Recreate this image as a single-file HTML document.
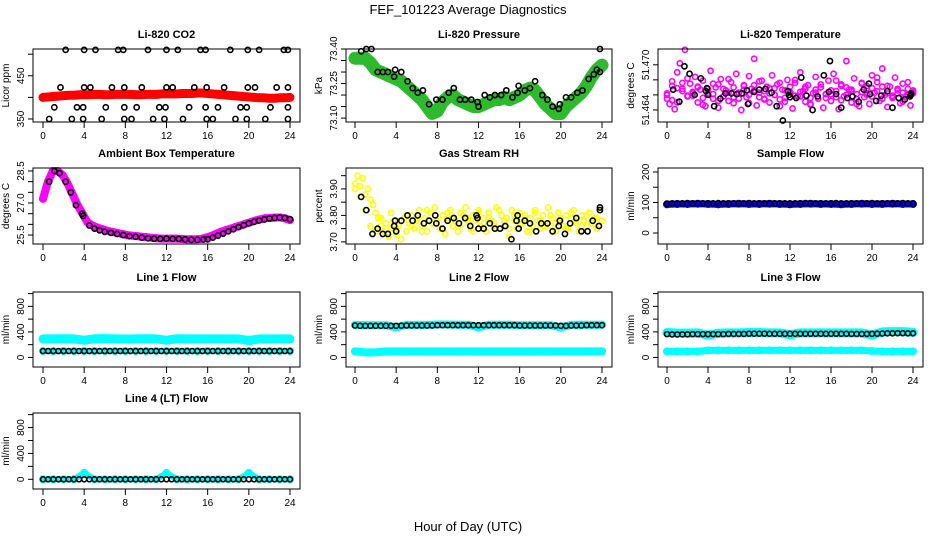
<!DOCTYPE html>
<html><head><meta charset="utf-8"><style>
body{margin:0;background:#fff;}
svg text{font-family:"Liberation Sans",sans-serif;}
</style></head><body>
<svg id="root" width="936" height="540" viewBox="0 0 936 540" xmlns="http://www.w3.org/2000/svg">
<rect width="936" height="540" fill="#fff"/>
<text x="468" y="14" text-anchor="middle" font-size="13">FEF_101223  Average Diagnostics</text>
<text x="468" y="531" text-anchor="middle" font-size="13">Hour of Day (UTC)</text>
</svg>
<script>
// ---------- data ----------
const co2Red = [400,401,402,403,404,405,405,406,406,406,407,407,406,406,407,407,407,407,406,406,407,407,407,408,408,408,408,409,409,409,410,410,409,408,407,406,405,404,403,402,401,400,399,399,398,398,399,399,400];
const co2BlackX = [2.2,4,5.1,7.3,7.8,10.2,12,13.1,15.3,15.8,18.2,19.9,21,23.4,23.8, 1.7,4,4.6,6.7,7.9,9.6,12,12.6,14.7,15.9,17.6,19.9,20.6,22.7,23.8, 1.1,3.3,3.9,6.1,7.9,9.1,11.3,11.9,14.2,15.8,17,19.2,19.8,22.1,23.8, 0.6,2.8,3.9,5.7,7.9,8.6,10.7,11.8,13.6,15.9,16.5,18.7,19.8,21.6,23.8];
const co2BlackY = [510,510,510,510,510,510,510,510,510,510,510,510,510,510,510, 423,423,423,423,423,423,423,423,423,423,423,423,423,423,423, 377,377,377,377,377,377,377,377,377,377,377,377,377,377,377, 350,350,350,350,350,350,350,350,350,350,350,350,350,350,350];

const presGreen = [73.36,73.36,73.36,73.34,73.31,73.30,73.29,73.28,73.27,73.26,73.24,73.22,73.20,73.18,73.15,73.12,73.13,73.17,73.19,73.20,73.18,73.17,73.16,73.15,73.15,73.16,73.17,73.18,73.18,73.19,73.18,73.19,73.20,73.22,73.23,73.22,73.19,73.16,73.14,73.12,73.12,73.15,73.17,73.19,73.21,73.24,73.28,73.31,73.33];
const presBlackX = [0.6,1.1,1.6,2.2,2.7,3.2,3.8,3.9,4.5,5.1,5.6,6.1,6.6,7.2,7.9,8.5,9.1,9.6,10.2,10.7,11.3,11.9,12.0,12.6,13.1,13.6,14.2,14.7,15.3,15.8,15.9,16.5,17.0,17.5,18.2,18.7,19.2,19.8,19.9,20.5,21.0,21.6,22.1,22.7,23.2,23.5,23.8,23.8];
const presBlackY = [73.39,73.40,73.40,73.30,73.30,73.30,73.28,73.31,73.30,73.26,73.23,73.21,73.22,73.16,73.18,73.18,73.21,73.23,73.18,73.18,73.18,73.17,73.15,73.20,73.19,73.20,73.20,73.22,73.19,73.21,73.24,73.22,73.23,73.26,73.20,73.18,73.15,73.14,73.16,73.19,73.19,73.21,73.22,73.27,73.29,73.31,73.40,73.30];

const tempMag = [51.4660,51.4648,51.4672,51.4641,51.4690,51.4702,51.4668,51.4720,51.4658,51.4675,51.4662,51.4684,51.4650,51.4667,51.4679,51.4645,51.4661,51.4692,51.4655,51.4670,51.4643,51.4681,51.4658,51.4666,51.4652,51.4677,51.4649,51.4688,51.4663,51.4640,51.4672,51.4657,51.4685,51.4668,51.4708,51.4646,51.4663,51.4679,51.4655,51.4671,51.4650,51.4686,51.4660,51.4674,51.4645,51.4667,51.4656,51.4680,51.4663,51.4642,51.4676,51.4658,51.4690,51.4665,51.4651,51.4673,51.4648,51.4662,51.4684,51.4655,51.4670,51.4643,51.4661,51.4679,51.4652,51.4688,51.4665,51.4641,51.4674,51.4658,51.4705,51.4667,51.4650,51.4682,51.4661,51.4645,51.4676,51.4657,51.4672,51.4648,51.4686,51.4663,51.4677,51.4652,51.4695,51.4660,51.4644,51.4671,51.4656,51.4683,51.4662,51.4649,51.4675,51.4658,51.4668,51.4646,51.4664];
const tempMag2 = [51.4655,51.4678,51.4650,51.4665,51.4682,51.4659,51.4670,51.4647,51.4663,51.4675,51.4652,51.4668,51.4681,51.4657,51.4662,51.4673,51.4649,51.4666,51.4678,51.4654,51.4669,51.4660,51.4676,51.4651,51.4664,51.4680,51.4658,51.4671,51.4647,51.4667,51.4674,51.4656,51.4661,51.4679,51.4653,51.4670,51.4665,51.4648,51.4675,51.4660,51.4669,51.4683,51.4655,51.4672,51.4659,51.4666,51.4651,51.4677,51.4662];
const tempMag3 = [51.4662,51.4653,51.4669,51.4676,51.4659,51.4664,51.4671,51.4656,51.4668,51.4661,51.4674,51.4658,51.4663,51.4670,51.4655,51.4667,51.4660,51.4673,51.4657,51.4665,51.4662,51.4669,51.4654,51.4666,51.4671,51.4659,51.4664,51.4668,51.4656,51.4663,51.4670,51.4661,51.4666,51.4657,51.4672,51.4660,51.4667,51.4655,51.4664,51.4669,51.4658,51.4665,51.4671,51.4662,51.4657,51.4668,51.4663,51.4660,51.4666];
const tempBlackX = [0.6,1.2,1.7,2.2,2.7,3.3,3.8,3.9,4.0,4.6,5.2,5.7,6.3,6.8,7.3,7.8,7.9,8.5,9.0,9.6,10.2,10.7,11.3,11.8,11.9,12.0,12.6,13.1,13.6,14.2,14.7,15.3,15.8,15.9,16.5,17.0,17.6,18.1,18.7,19.2,19.7,19.8,20.4,20.9,21.5,22.0,22.6,23.2,23.7,23.8,23.8];
const tempBlackY = [51.4667,51.4651,51.4698,51.4688,51.4660,51.4682,51.4665,51.4669,51.4660,51.4645,51.4655,51.4662,51.4662,51.4661,51.4662,51.4666,51.4648,51.4664,51.4667,51.4668,51.4663,51.4645,51.4626,51.4665,51.4660,51.4657,51.4656,51.4683,51.4659,51.4640,51.4658,51.4686,51.4664,51.4705,51.4661,51.4643,51.4656,51.4658,51.4651,51.4667,51.4675,51.4661,51.4652,51.4659,51.4665,51.4643,51.4656,51.4654,51.4658,51.4660,51.4662];

const ambMag = [27.2,28.0,28.5,28.5,28.3,27.9,27.4,26.9,26.5,26.1,25.95,25.85,25.78,25.7,25.65,25.6,25.55,25.5,25.47,25.45,25.42,25.4,25.37,25.35,25.33,25.33,25.33,25.33,25.32,25.3,25.3,25.3,25.32,25.38,25.45,25.55,25.65,25.73,25.8,25.88,25.95,26.03,26.1,26.18,26.24,26.29,26.3,26.32,26.32,26.28,26.2];
const ambBlackX = [0.6,1.1,1.6,2.2,2.7,3.2,3.8,3.9,4.5,5.0,5.5,6.0,6.6,7.2,7.8,8.4,9.0,9.6,10.2,10.8,11.4,12.0,12.6,13.2,13.8,14.4,15.0,15.6,16.0,16.5,17.0,17.5,18.0,18.5,19.0,19.5,20.0,20.5,21.0,21.5,22.0,22.5,23.0,23.5,24.0];
const ambBlackY = [28.0,28.5,28.4,28.0,27.5,26.9,26.5,26.4,25.95,25.8,25.72,25.65,25.6,25.55,25.5,25.45,25.42,25.38,25.35,25.33,25.32,25.33,25.32,25.32,25.3,25.28,25.28,25.29,25.3,25.38,25.47,25.57,25.67,25.77,25.87,25.96,26.05,26.12,26.18,26.23,26.28,26.3,26.32,26.3,26.24];

const rhYel = [3.92,3.95,3.91,3.94,3.88,3.90,3.86,3.84,3.81,3.79,3.76,3.74,3.77,3.72,3.75,3.78,3.73,3.76,3.71,3.79,3.74,3.77,3.80,3.75,3.78,3.82,3.76,3.79,3.74,3.81,3.77,3.83,3.78,3.75,3.80,3.73,3.79,3.82,3.76,3.78,3.74,3.81,3.77,3.83,3.79,3.75,3.80,3.78,3.82,3.76,3.79,3.74,3.81,3.78,3.77,3.83,3.75,3.80,3.76,3.79,3.72,3.82,3.78,3.75,3.81,3.77,3.80,3.74,3.79,3.76,3.82,3.78,3.75,3.80,3.77,3.83,3.76,3.79,3.74,3.81,3.78,3.76,3.80,3.75,3.79,3.82,3.77,3.74,3.80,3.78,3.76,3.81,3.77,3.79,3.75,3.82,3.78];
const rhYel2 = [3.90,3.87,3.82,3.76,3.74,3.79,3.77,3.81,3.75,3.78,3.80,3.76,3.79,3.74,3.82,3.77,3.78,3.75,3.81,3.79,3.76,3.80,3.78,3.74,3.81,3.77,3.79,3.76,3.82,3.78,3.75,3.80,3.77,3.79,3.74,3.81,3.78,3.76,3.80,3.77,3.79,3.75,3.81,3.78,3.76,3.80,3.77,3.79,3.78];
const rhBlackX = [0.6,1.1,1.7,2.2,2.7,3.2,3.8,3.9,4.0,4.5,5.1,5.6,6.1,6.7,7.2,7.8,7.9,8.5,9.0,9.6,10.1,10.7,11.2,11.8,11.9,12.0,12.5,13.1,13.6,14.1,14.6,15.2,15.7,15.8,15.9,16.5,17.0,17.6,18.1,18.7,19.2,19.8,19.9,20.4,20.9,21.5,22.0,22.6,23.1,23.7,23.8,23.8];
const rhBlackY = [3.87,3.82,3.73,3.75,3.73,3.73,3.76,3.78,3.74,3.78,3.80,3.78,3.80,3.77,3.78,3.80,3.77,3.75,3.78,3.79,3.77,3.79,3.76,3.80,3.79,3.75,3.75,3.77,3.75,3.75,3.76,3.71,3.78,3.80,3.75,3.78,3.77,3.74,3.77,3.77,3.74,3.76,3.78,3.73,3.77,3.79,3.74,3.74,3.78,3.76,3.82,3.83];

const sampleBlue = [94,95,95,96,95,94,95,96,95,95,96,95,94,95,96,95,95,94,95,96,95,95,96,95,95];
const sampleBlack = [96,97,97,97,98,97,97,97,97,97,98,97,97,97,97,97,98,97,97,97,97,97,97,97,97,97,97,98,97,97,97,97,97,98,97,97,97,97,97,97,98,97,97,97,97,97,98,97,97];

const line1Cyan = [290,290,292,290,270,292,295,290,288,290,292,290,270,292,290,290,290,290,290,290,265,290,290,290,290];
const line1Low = [100,100,100,100,100,100,100,100,100,100,100,100,100,100,100,100,100,100,100,100,100,100,100,100,100];
const line1Black = [100,100,100,100,100,100,100,100,100,100,100,100,100,100,100,100,100,100,100,100,100,100,100,100,100,100,100,100,100,100,100,100,100,100,100,100,100,100,100,100,100,100,100,100,100,100,100,100,100];

const line2Cyan = [510,505,505,505,470,510,510,510,515,515,512,512,470,512,512,512,505,505,505,505,470,510,512,512,512];
const line2Low = [95,80,80,95,95,95,95,95,95,95,95,95,95,95,95,95,95,95,95,95,95,95,95,95,95];
const line2Black = [500,495,495,495,495,495,495,495,495,498,500,500,500,500,500,500,505,505,505,505,505,505,505,505,505,505,505,505,505,505,505,505,500,500,500,500,500,500,500,500,495,495,500,500,500,505,505,505,505];

const line3Cyan = [390,380,380,385,350,380,385,385,390,390,385,385,355,385,385,385,385,385,385,385,350,400,405,405,395];
const line3Low = [95,95,95,95,110,110,110,110,110,110,110,110,110,110,110,110,110,110,110,110,100,95,95,95,95];
const line3Black = [365,360,360,362,362,365,365,365,365,365,365,365,368,368,368,368,372,372,372,372,370,370,370,370,370,370,370,370,370,370,370,370,370,370,370,370,368,368,368,368,370,372,375,378,378,380,380,378,378];

const line4Cyan = [0,0,0,0,100,0,0,0,0,0,0,0,100,0,0,0,0,0,0,0,100,0,0,0,0];
const line4Black = [0,0,0,0,0,0,0,0,0,0,0,0,0,0,0,0,0,0,0,0,0,0,0,0,0,0,0,0,0,0,0,0,0,0,0,0,0,0,0,0,0,0,0,0,0,0,0,0,0];

const xTicks = [0,4,8,12,16,20,24];

// ---------- layout ----------
const svg = document.getElementById('root');
const NS = 'http://www.w3.org/2000/svg';
const colL = [33,346,658], colR = [300,612,923], colX0 = [43,355,667], colX24 = [290,602,913];
const rowT = [49,168,292,413], rowB = [122,244,367,489];

function mk(tag, attrs, parent){
  const e = document.createElementNS(NS, tag);
  for (const k in attrs) e.setAttribute(k, attrs[k]);
  (parent||svg).appendChild(e);
  return e;
}

function makePanel(col,row,title,ylab,ymin,ymax,ticks,labels,name){
  const g = mk('g',{});
  
  
  const L=colL[col],R=colR[col],T=rowT[row],B=rowB[row];
  const sx = h => colX0[col] + h/24*(colX24[col]-colX0[col]);
  const sy = v => B - (v-ymin)/(ymax-ymin)*(B-T);
  const t = mk('text',{x:(L+R)/2,y:T-11,'text-anchor':'middle','font-size':11,'font-weight':'bold'},g);
  t.textContent = title;
  
  
  const yl = mk('text',{x:0,y:0,'text-anchor':'middle','font-size':10,transform:`translate(${L-24},${(T+B)/2}) rotate(-90)`},g);
  yl.textContent = ylab;
  
  
  const xa = mk('g',{},g);
  
  
  xTicks.forEach(h=>{
    mk('line',{x1:sx(h),x2:sx(h),y1:B,y2:B+6,stroke:'#000','stroke-width':1},xa);
    const tx = mk('text',{x:sx(h),y:B+17,'text-anchor':'middle','font-size':10},xa);
    tx.textContent = h;
  });
  const ya = mk('g',{},g);
  
  
  ticks.forEach((v,i)=>{
    mk('line',{x1:L-5,x2:L,y1:sy(v),y2:sy(v),stroke:'#000','stroke-width':1},ya);
    if (labels[i] !== '') {
      const ty = mk('text',{x:0,y:0,'text-anchor':'middle','font-size':10,transform:`translate(${L-9},${sy(v)}) rotate(-90)`},ya);
      ty.textContent = labels[i];
    }
  });
  const plot = mk('g',{},g);
  
  
  const box = mk('rect',{x:L,y:T,width:R-L,height:B-T,fill:'none',stroke:'#000','stroke-width':1},g);
  
  
  return {plot,sx,sy};
}

function series(p, vals, color, r, sw, band, sname){
  const g = mk('g',{},p.plot);
  
  
  const n = vals.length;
  if (band) {
    const pts = vals.map((v,i)=>p.sx(i*24/(n-1))+','+p.sy(v)).join(' ');
    mk('polyline',{points:pts,fill:'none',stroke:color,'stroke-width':band,'stroke-linejoin':'round','stroke-linecap':'round'},g);
  }
  vals.forEach((v,i)=>{
    const c = mk('circle',{cx:p.sx(i*24/(n-1)),cy:p.sy(v),r:r,fill:'none',stroke:color,'stroke-width':sw},g);
    
    
  });
}
function scatter(p, xs, ys, color, sname){
  const g = mk('g',{},p.plot);
  
  
  xs.forEach((h,i)=>{
    const c = mk('circle',{cx:p.sx(h),cy:p.sy(ys[i]),r:2.6,fill:'none',stroke:color,'stroke-width':1.6},g);
    
    
  });
}

let p = makePanel(0,0,'Li-820 CO2','Licor ppm',343,512,[350,400,450,500],['350','','450',''],'co2');
series(p, co2Red, '#ff0000', 3, 2, 9, 'co2-red-series');
scatter(p, co2BlackX, co2BlackY, '#000', 'co2-black-series');

p = makePanel(1,0,'Li-820 Pressure','kPa',73.083,73.40,[73.10,73.15,73.20,73.25,73.30,73.35,73.40],['73.10','','','73.25','','','73.40'],'pressure');
series(p, presGreen, '#2dbb2d', 3, 1.5, 13, 'pressure-green-series');
scatter(p, presBlackX, presBlackY, '#000', 'pressure-black-series');

p = makePanel(2,0,'Li-820 Temperature','degrees C',51.4624,51.4721,[51.464,51.466,51.468,51.470],['51.464','','','51.470'],'li820-temp');
series(p, tempMag, '#ff00ff', 2.6, 1.6, 0, 'li820-temp-magenta-series');
series(p, tempMag2, '#ff00ff', 2.6, 1.6, 0, 'li820-temp-magenta-series-2');
series(p, tempMag3, '#ff00ff', 2.6, 1.6, 0, 'li820-temp-magenta-series-3');
scatter(p, tempBlackX, tempBlackY, '#000', 'li820-temp-black-series');

p = makePanel(0,1,'Ambient Box Temperature','degrees C',25.08,28.64,[25.5,26.0,26.5,27.0,27.5,28.0,28.5],['25.5','','','27.0','','','28.5'],'ambient-temp');
series(p, ambMag, '#ff00ff', 3, 2, 8, 'ambient-magenta-series');
scatter(p, ambBlackX, ambBlackY, '#000', 'ambient-black-series');

p = makePanel(1,1,'Gas Stream RH','percent',3.692,3.979,[3.70,3.75,3.80,3.85,3.90,3.95],['3.70','','3.80','','3.90',''],'rh');
series(p, rhYel, '#ffff00', 2.6, 1.6, 0, 'rh-yellow-series');
series(p, rhYel2, '#ffff00', 2.6, 1.6, 0, 'rh-yellow-series-2');
scatter(p, rhBlackX, rhBlackY, '#000', 'rh-black-series');

p = makePanel(2,1,'Sample Flow','ml/min',-36,213,[0,50,100,150,200],['0','','100','','200'],'sample-flow');
series(p, sampleBlue, '#0000ee', 3, 2, 7, 'sample-blue-series');
series(p, sampleBlack, '#000', 2.6, 1.6, 0, 'sample-black-series');

const fT = [0,200,400,600,800,1000], fL = ['0','','400','','800',''];
p = makePanel(0,2,'Line 1 Flow','ml/min',-150,1025,fT,fL,'line1');
series(p, line1Cyan, '#00ffff', 3, 2, 9, 'line1-cyan-series');
series(p, line1Low, '#00ffff', 3, 2, 6, 'line1-cyan-low-series');
series(p, line1Black, '#000', 2.5, 1.6, 0, 'line1-black-series');
p = makePanel(1,2,'Line 2 Flow','ml/min',-150,1025,fT,fL,'line2');
series(p, line2Cyan, '#00ffff', 3, 2, 8, 'line2-cyan-series');
series(p, line2Low, '#00ffff', 3, 2, 8, 'line2-cyan-low-series');
series(p, line2Black, '#000', 2.5, 1.6, 0, 'line2-black-series');
p = makePanel(2,2,'Line 3 Flow','ml/min',-150,1025,fT,fL,'line3');
series(p, line3Cyan, '#00ffff', 3, 2, 9, 'line3-cyan-series');
series(p, line3Low, '#00ffff', 3, 2, 7, 'line3-cyan-low-series');
series(p, line3Black, '#000', 2.5, 1.6, 0, 'line3-black-series');
p = makePanel(0,3,'Line 4 (LT) Flow','ml/min',-150,1025,fT,fL,'line4');
series(p, line4Cyan, '#00ffff', 3, 2, 6, 'line4-cyan-series');
series(p, line4Black, '#000', 2.5, 1.6, 0, 'line4-black-series');
</script>
</body></html>
